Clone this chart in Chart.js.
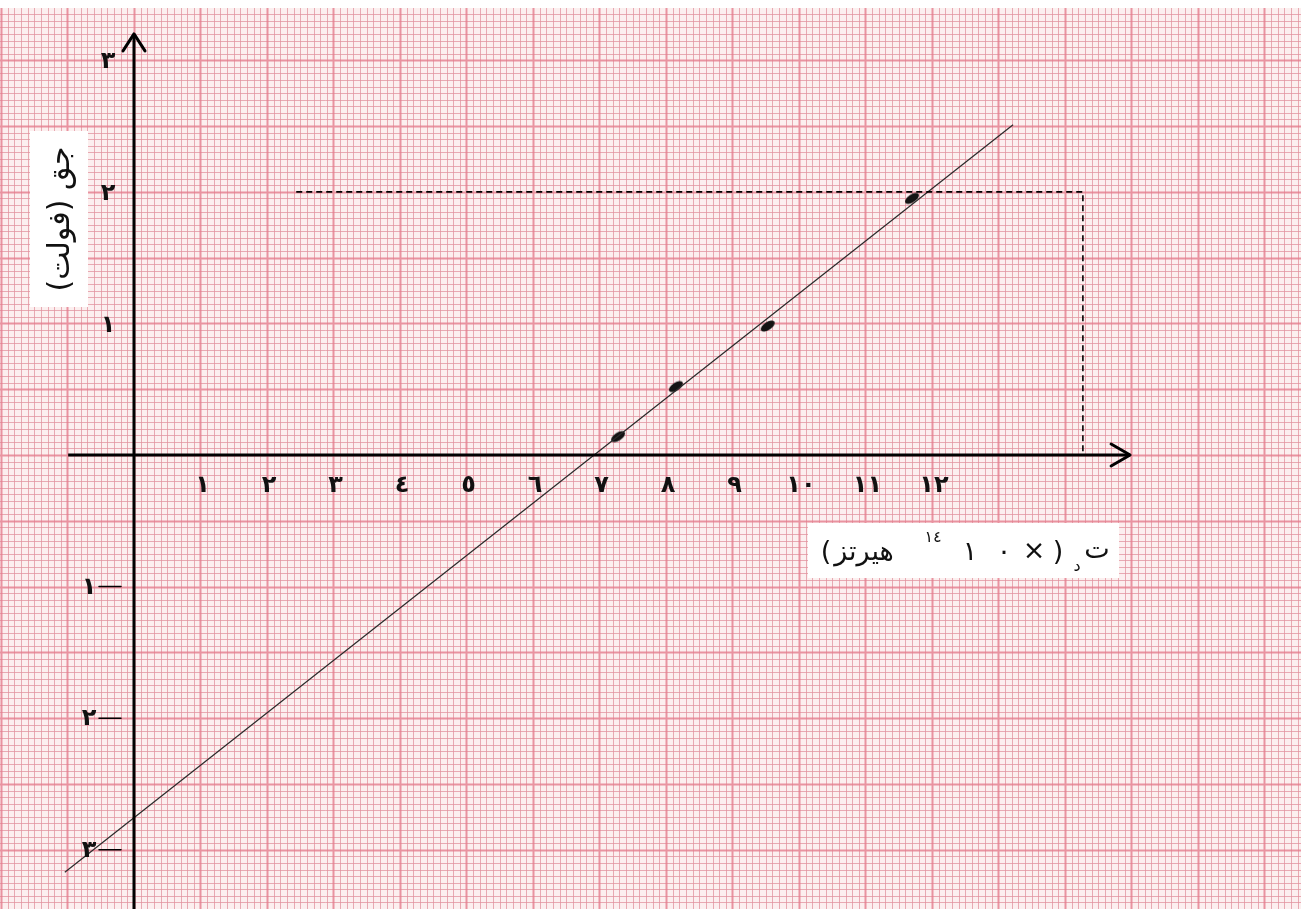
<!DOCTYPE html>
<html lang="ar">
<head>
<meta charset="utf-8">
<title>جهد الإيقاف والتردد</title>
<script src="https://cdn.jsdelivr.net/npm/chart.js@4.4.0/dist/chart.umd.min.js"></script>
<style>
html, body { margin: 0; padding: 0; background: #fff; }
#wrap { width: 1301px; height: 909px; }
</style>
</head>
<body>
<div id="wrap"><canvas id="graph" width="1301" height="909"></canvas></div>
<script>
// measured points (x: 10^14 Hz, y: volt)
const freq = [7.28, 8.15, 9.53, 11.7];
const volts = [0.14, 0.52, 0.98, 1.95];

// best fit line, ends as drawn on the paper
const fitX = [-1.04, 13.22];
const fitY = [-3.17, 2.51];

// dashed triangle used for the slope
const guideX = [2.44, 14.27, 14.27];
const guideY = [2, 2, 0];

// axis extents
const axisXEnds = [-0.99, 14.98];
const axisYEnds = [-3.45, 3.2];

// tick labels
const xTicks = [1, 2, 3, 4, 5, 6, 7, 8, 9, 10, 11, 12];
const xTickLabels = ['١', '٢', '٣', '٤', '٥', '٦', '٧', '٨', '٩', '١٠', '١١', '١٢'];
const yTicks = [3, 2, 1, -1, -2, -3];
const yTickLabels = ['٣', '٢', '١', '١', '٢', '٣'];

const yTitle = 'جق (فولت)';

const toPts = (xs, ys) => xs.map((x, i) => ({ x: x, y: ys[i] }));

// blob used as point marker
const dot = document.createElement('canvas');
dot.width = 20; dot.height = 20;
const dc = dot.getContext('2d');
dc.translate(10, 10);
dc.rotate(-0.6);
dc.beginPath();
dc.ellipse(0, 0, 8, 4, 0, 0, Math.PI * 2);
dc.fillStyle = '#141414';
dc.fill();

// graph paper: 10 small squares per x unit, 20 per y unit
const paper = {
  id: 'paper',
  beforeDatasetsDraw(chart) {
    const c = chart.ctx;
    const a = chart.chartArea;
    const xs = chart.scales.x, ys = chart.scales.y;
    c.save();
    c.fillStyle = '#ffffff';
    c.fillRect(0, 0, chart.width, chart.height);
    c.fillStyle = '#fcefef';
    c.fillRect(a.left, a.top, a.right - a.left, a.bottom - a.top);

    const lines = (major) => {
      c.beginPath();
      for (let i = Math.ceil(xs.min * 10); i <= Math.floor(xs.max * 10); i++) {
        if ((i % 10 === 0) !== major) continue;
        const px = Math.round(xs.getPixelForValue(i / 10)) + 0.5;
        c.moveTo(px, a.top); c.lineTo(px, a.bottom);
      }
      for (let j = Math.ceil(ys.min * 20); j <= Math.floor(ys.max * 20); j++) {
        if ((j % 10 === 0) !== major) continue;
        const py = Math.round(ys.getPixelForValue(j / 20)) + 0.5;
        c.moveTo(a.left, py); c.lineTo(a.right, py);
      }
      c.stroke();
    };
    c.strokeStyle = 'rgba(226,146,158,0.75)';
    c.lineWidth = 1;
    lines(false);
    c.strokeStyle = 'rgba(228,124,140,0.8)';
    c.lineWidth = 2;
    lines(true);
    c.restore();
  }
};

// arrows, tick labels, titles
const decor = {
  id: 'decor',
  afterDatasetsDraw(chart) {
    const c = chart.ctx;
    const xs = chart.scales.x, ys = chart.scales.y;
    const x0 = xs.getPixelForValue(0), y0 = ys.getPixelForValue(0);
    c.save();
    c.direction = 'ltr';
    c.strokeStyle = '#000';
    c.lineWidth = 3;
    c.lineCap = 'round';
    c.lineJoin = 'round';
    // y arrow
    const ty = ys.getPixelForValue(axisYEnds[1]);
    c.beginPath();
    c.moveTo(x0 - 11, ty + 17); c.lineTo(x0, ty); c.lineTo(x0 + 11, ty + 17);
    c.stroke();
    // x arrow
    const tx = xs.getPixelForValue(axisXEnds[1]);
    c.beginPath();
    c.moveTo(tx - 19, y0 - 11); c.lineTo(tx, y0); c.lineTo(tx - 19, y0 + 11);
    c.stroke();

    c.fillStyle = '#111';
    c.font = 'bold 24px "DejaVu Sans"';
    c.textAlign = 'center';
    c.textBaseline = 'middle';
    xTicks.forEach((v, i) => {
      c.fillText(xTickLabels[i], xs.getPixelForValue(v) + 2, y0 + 31);
    });
    c.lineWidth = 1.5;
    yTicks.forEach((v, i) => {
      const py = ys.getPixelForValue(v);
      if (v > 0) {
        c.fillText(yTickLabels[i], x0 - 26, py + 2);
      } else {
        c.fillText(yTickLabels[i], x0 - 45, py + 1);
        c.beginPath();
        c.moveTo(x0 - 35, py); c.lineTo(x0 - 13, py);
        c.stroke();
      }
    });

    // y title box
    c.fillStyle = '#fff';
    c.fillRect(30, 131, 58, 176);
    c.save();
    c.translate(61, 219);
    c.rotate(-Math.PI / 2);
    c.direction = 'rtl';
    c.fillStyle = '#111';
    c.font = '30px "DejaVu Sans"';
    c.textAlign = 'center';
    c.fillText(yTitle, 0, 0);
    c.restore();

    // x title box
    c.fillStyle = '#fff';
    c.fillRect(808, 523, 311, 55);
    c.fillStyle = '#111';
    c.direction = 'ltr';
    c.textAlign = 'center';
    c.font = '27px "DejaVu Sans"';
    c.fillText('(', 826, 553);
    c.fillText('هيرتز', 864, 553);
    c.fillText('١', 970, 553);
    c.fillText('٠', 1004, 553);
    c.fillText('×', 1034, 552);
    c.fillText(')', 1058, 553);
    c.fillText('ت', 1097, 551);
    c.font = '16px "DejaVu Sans"';
    c.fillText('١٤', 933, 538);
    c.fillText('د', 1077, 567);
    c.restore();
  }
};

new Chart(document.getElementById('graph'), {
  type: 'scatter',
  data: {
    datasets: [
      {
        label: 'axis x',
        data: toPts(axisXEnds, [0, 0]),
        showLine: true, borderColor: '#000', borderWidth: 3, pointRadius: 0
      },
      {
        label: 'axis y',
        data: toPts([0, 0], axisYEnds),
        showLine: true, borderColor: '#000', borderWidth: 3, pointRadius: 0
      },
      {
        label: 'guide',
        data: toPts(guideX, guideY),
        showLine: true, borderColor: '#000', borderWidth: 1.6,
        borderDash: [6, 4], pointRadius: 0
      },
      {
        label: 'fit',
        data: toPts(fitX, fitY),
        showLine: true, borderColor: '#2a2a2a', borderWidth: 1.2, pointRadius: 0
      },
      {
        label: 'points',
        data: toPts(freq, volts),
        pointStyle: dot, pointRadius: 8
      }
    ]
  },
  options: {
    responsive: false,
    animation: false,
    layout: { autoPadding: false, padding: { top: 8, left: 0, right: 0, bottom: 0 } },
    plugins: { legend: { display: false }, tooltip: { enabled: false } },
    scales: {
      x: { type: 'linear', display: false, min: -2.015, max: 17.55 },
      y: { type: 'linear', display: false, min: -3.45, max: 3.397 }
    }
  },
  plugins: [paper, decor]
});
</script>
</body>
</html>
